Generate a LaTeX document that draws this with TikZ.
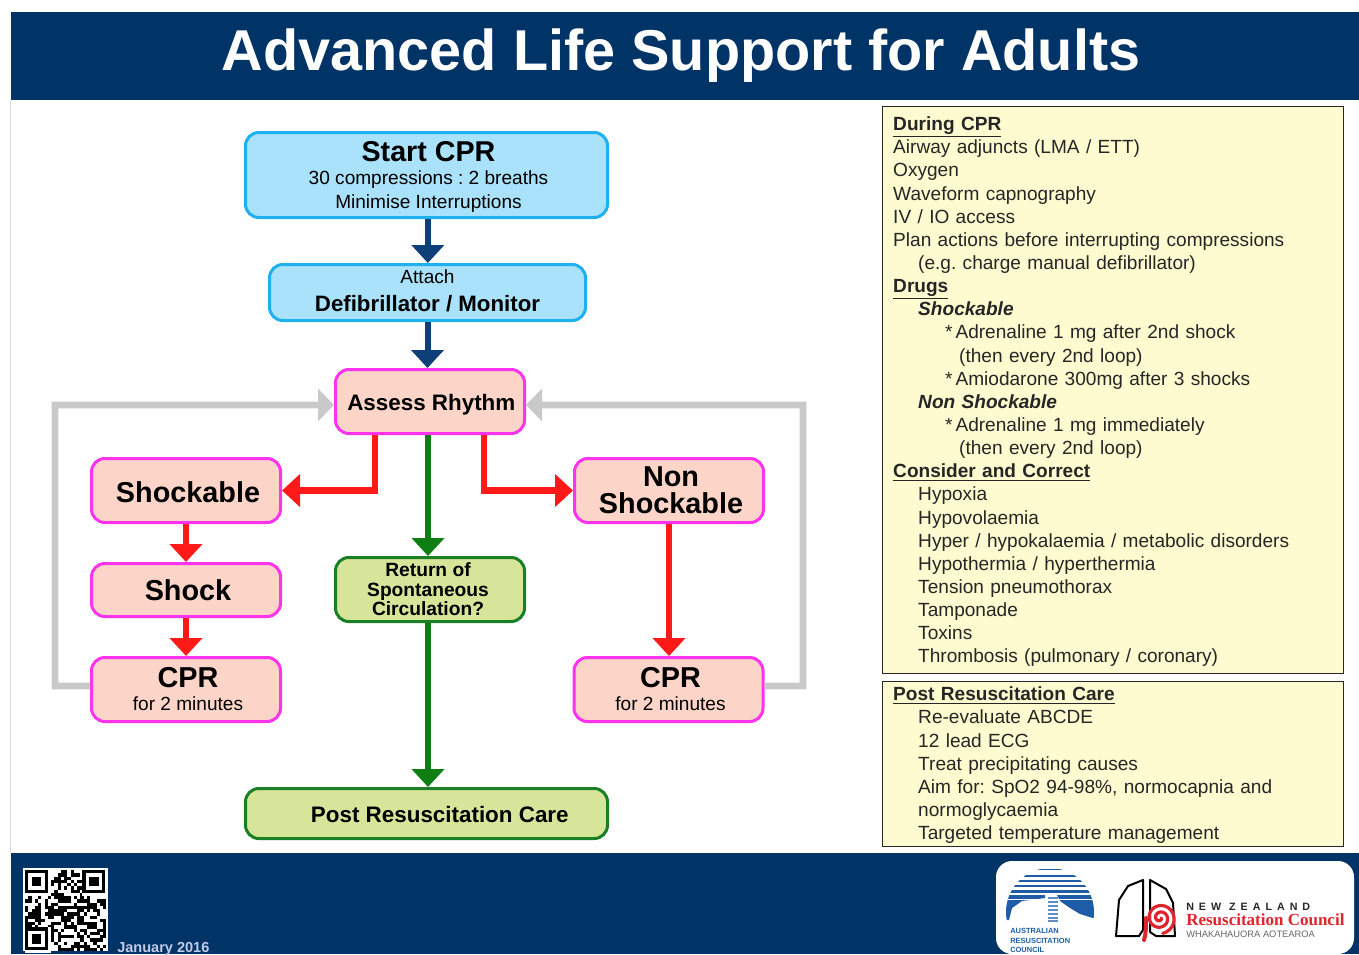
\documentclass[tikz,border=0pt]{standalone}
\usepackage{fontspec}
\setmainfont{Liberation Sans}
\newfontfamily\serifbold{Liberation Serif}
\usetikzlibrary{arrows.meta,positioning}
\definecolor{navyband}{HTML}{003366}
\definecolor{skyfill}{HTML}{A9E2FA}
\definecolor{skyline}{HTML}{1FB0EE}
\definecolor{pinkfill}{HTML}{FCD5C8}
\definecolor{pinkline}{HTML}{FF33EE}
\definecolor{leaffill}{HTML}{D7E59A}
\definecolor{leafline}{HTML}{1A7F25}
\definecolor{notefill}{HTML}{FDFBCF}
\definecolor{arrowblue}{HTML}{0F3F78}
\definecolor{arrowgreen}{HTML}{0F7F14}
\definecolor{arrowred}{HTML}{FF1A1A}
\definecolor{arrowgray}{HTML}{C9C9C9}
\definecolor{arcblue}{HTML}{1F5CA8}
\definecolor{nzred}{HTML}{E0242C}
\newcommand{\fsize}[2]{\fontsize{#1}{#2}\selectfont}
\newcommand{\indone}{\hspace*{18.75pt}}
\newcommand{\indtwo}{\hspace*{39pt}}
\newcommand{\indthree}{\hspace*{49.5pt}}
\newcommand{\notehead}[1]{\underline{\textbf{#1}}}
\newcommand{\nudge}{\hspace*{3pt}}
\newcommand{\toppad}[1]{\rule{0pt}{#1}}
\newcommand{\bulletstar}{*\hspace{2.2pt}}
\frenchspacing

\begin{document}
\begin{tikzpicture}[
    x=0.75pt, y=-0.75pt,
    flowbox/.style={rectangle, rounded corners=10pt, line width=2.25pt, align=center, inner sep=0pt, minimum width=141.75pt, minimum height=48pt},
    startbox/.style={flowbox, draw=skyline, fill=skyfill},
    rhythmbox/.style={flowbox, draw=pinkline, fill=pinkfill},
    carebox/.style={flowbox, draw=leafline, fill=leaffill},
    notebox/.style={rectangle, draw=black!85, line width=1.1pt, fill=notefill, anchor=north west, minimum width=345.75pt, text width=330pt, inner xsep=7.5pt, inner ysep=0pt, align=left, text=black!85, font=\fsize{14.3}{17.36}},
    blueflow/.style={draw=arrowblue, line width=4.5pt, -{Triangle[length=13.5pt,width=24pt,fill=arrowblue]}},
    redflow/.style={draw=arrowred, line width=4.8pt, -{Triangle[length=13.5pt,width=24pt,fill=arrowred]}},
    greenflow/.style={draw=arrowgreen, line width=4.5pt, -{Triangle[length=13.5pt,width=24pt,fill=arrowgreen]}},
    grayflow/.style={draw=arrowgray, line width=5pt, -{Triangle[length=12pt,width=24pt,fill=arrowgray]}}
]
\useasboundingbox (0,0) rectangle (1359,954);

% Header and footer bands
\fill[navyband] (11,12) rectangle (1359,100);
\fill[navyband] (11,853) rectangle (1359,954);
\draw[black!15, line width=0.75pt] (10.5,100) -- (10.5,853);
\node (title) at (681,56) [text=white, font=\fsize{43.2}{50}\bfseries] {Advanced Life Support for Adults};

% Top of the flow
\node (start) at (426.5,175) [startbox, minimum width=271.5pt, minimum height=63.75pt, font=\fsize{14.3}{18}] {\toppad{17.5pt}\nudge{\fsize{21.5}{18}\bfseries Start CPR}\\[-0.75pt]\nudge 30 compressions : 2 breaths\\\nudge Minimise Interruptions};
\node (attach) at (427.5,292.5) [startbox, minimum width=237pt, minimum height=42pt, font=\fsize{14.3}{19.5}] {Attach\\[1.5pt]{\fsize{16.7}{19.5}\bfseries Defibrillator / Monitor}\rule[-3.5pt]{0pt}{0pt}};
\node (assess) at (430,401.5) [rhythmbox, font=\fsize{16.8}{20}\bfseries] {\toppad{16.5pt}\hspace*{2pt}Assess Rhythm};

% Left branch
\node (shockable) at (186,490.5) [rhythmbox, font=\fsize{21.6}{26}\bfseries] {\toppad{17.5pt}\nudge Shockable};
\node (shock) [rhythmbox, below=28.5pt of shockable, minimum height=39.75pt, font=\fsize{21.6}{26}\bfseries] {\nudge Shock};
\node (cprleft) [rhythmbox, below=28.5pt of shock, font=\fsize{14.3}{19.5}] {\nudge{\fsize{21.6}{19.5}\bfseries CPR}\\[-2.25pt]\nudge for 2 minutes};

% Right branch
\node (nonshock) at (669,490.5) [rhythmbox, font=\fsize{21.6}{20}\bfseries] {\nudge Non\\\nudge Shockable};
\node (cprright) at (668.5,689.5) [rhythmbox, font=\fsize{14.3}{19.5}] {\nudge{\fsize{21.6}{19.5}\bfseries CPR}\\[-2.25pt]\nudge for 2 minutes};

% Middle branch
\node (rosc) at (430,589.5) [carebox, font=\fsize{14.4}{14.6}\bfseries] {\hspace*{-3pt}Return of\\\hspace*{-3pt}Spontaneous\\\hspace*{-3pt}Circulation?};
\node (post) at (426.5,813.5) [carebox, minimum width=271.5pt, minimum height=37.5pt, font=\fsize{16.8}{20}\bfseries] {\toppad{13.8pt}\hspace*{20pt}Post Resuscitation Care};

% Arrows
\draw[blueflow] (start.south) ++(1pt,0) -- ([xshift=1pt]start.south |- attach.north);
\draw[blueflow] (attach.south) -- (attach.south |- assess.north);
\draw[redflow] ([xshift=-41.25pt]assess.south) |- (shockable.east);
\draw[redflow] ([xshift=40.5pt]assess.south) |- (nonshock.west);
\draw[greenflow] ([xshift=-1.5pt]assess.south) -- ([xshift=-1.5pt]rosc.north);
\draw[greenflow] ([xshift=-1.5pt]rosc.south) -- ([xshift=-1.5pt]rosc.south |- post.north);
\draw[redflow] (shockable.south) -- (shock.north);
\draw[redflow] (shock.south) -- (cprleft.north);
\draw[redflow] (nonshock.south) -- (nonshock.south |- cprright.north);
\coordinate (leftturn) at (55,405);
\coordinate (rightturn) at (803,405);
\draw[grayflow] (cprleft.west |- 0,686) -| (leftturn) -- ([yshift=-2.6pt]assess.west);
\draw[grayflow] (cprright.east |- 0,686) -| (rightturn) -- ([yshift=-2.6pt]assess.east);

% Side notes
\node (notecpr) at (882,106) [notebox, minimum height=425pt] {\toppad{13pt}\notehead{During CPR}\\
Airway adjuncts (LMA / ETT)\\
Oxygen\\
Waveform capnography\\
IV / IO access\\
Plan actions before interrupting compressions\\
\indone (e.g. charge manual defibrillator)\\
\notehead{Drugs}\\
\indone\textbf{\textit{Shockable}}\\
\indtwo\bulletstar Adrenaline 1 mg after 2nd shock\\
\indthree (then every 2nd loop)\\
\indtwo\bulletstar Amiodarone 300mg after 3 shocks\\
\indone\textbf{\textit{Non Shockable}}\\
\indtwo\bulletstar Adrenaline 1 mg immediately\\
\indthree (then every 2nd loop)\\
\notehead{Consider and Correct}\\
\indone Hypoxia\\
\indone Hypovolaemia\\
\indone Hyper / hypokalaemia / metabolic disorders\\
\indone Hypothermia / hyperthermia\\
\indone Tension pneumothorax\\
\indone Tamponade\\
\indone Toxins\\
\indone Thrombosis (pulmonary / coronary)};
\node (notepost) at (882,681) [notebox, minimum height=123.75pt] {\toppad{12pt}\notehead{Post Resuscitation Care}\\
\indone Re-evaluate ABCDE\\
\indone 12 lead ECG\\
\indone Treat precipitating causes\\
\indone Aim for: SpO2 94-98\%, normocapnia and\\
\indone normoglycaemia\\
\indone Targeted temperature management};

% QR code
\fill[white] (23,868) rectangle (108,951);
\pgfmathsetseed{2016}
\foreach \col in {0,...,24} {
  \foreach \row in {0,...,24} {
    \pgfmathparse{rnd<0.52 ? 1 : 0}
    \ifnum\pgfmathresult=1
      \fill[black] ({25+\col*3.25},{870+\row*3.25}) rectangle ++(3.25,3.25);
    \fi
  }
}
\foreach \qx/\qy in {25/870,82.25/870,25/927.25} {
  \fill[white] (\qx,\qy) rectangle ++(26,26);
  \fill[black] (\qx,\qy) rectangle ++(22.75,22.75);
  \fill[white] ({\qx+3.25},{\qy+3.25}) rectangle ++(16.25,16.25);
  \fill[black] ({\qx+6.5},{\qy+6.5}) rectangle ++(9.75,9.75);
}
\node (issued) at (117,948.5) [anchor=west, inner sep=0pt, text=blue!10!white!85!navyband, font=\fsize{10.9}{13}\bfseries] {January 2016};

% Logos
\fill[white, rounded corners=12pt] (996,954) -- (996,861) -- (1354,861) -- (1354,954) -- cycle;
\begin{scope}
  \clip (1050,912) circle (44);
  \foreach \sy/\sh in {869/1.2,875/1.5,880/2,885/2.2,890/3} {
    \fill[arcblue] (1000,\sy) rectangle ++(100,\sh);
  }
  \fill[arcblue] (1005,920) -- (1005,895) -- (1045,895) -- (1045,898) -- (1022,901) -- (1012,908) -- (1009,920) -- cycle;
  \fill[arcblue] (1057,895) -- (1096,895) -- (1096,919) -- (1080,914) -- (1070,908) -- (1060,901) -- cycle;
  \fill[white] (1000,899) rectangle (1100,899.6);
\end{scope}
\foreach \sy in {897,901,905,909,913,917,920} {
  \fill[arcblue!70] (1048,\sy) rectangle (1058,{\sy+1.8});
}
\node (arcname) at (1010,940.5) [anchor=west, inner sep=0pt, align=left, text=arcblue, font=\fsize{5.6}{7}\bfseries] {AUSTRALIAN\\RESUSCITATION\\COUNCIL};
\draw[black, line width=1.5pt, line join=round] (1143,880) -- (1128,886) -- (1119,900) -- (1116,936) -- (1139,936) -- (1143,930) -- cycle;
\draw[black, line width=1.5pt, line join=round] (1150,880) -- (1166,889) -- (1173,903) -- (1175,936) -- (1156,936) -- (1150,932) -- cycle;
\draw[nzred, line width=2.4pt, line cap=round] plot[smooth, domain=0:800, samples=70] ({1160+(1+\x/55)*cos(\x)},{918+(1+\x/55)*sin(\x)});
\draw[nzred, line width=3pt, line cap=round] (1146,918) .. controls (1146,928) and (1146,933) .. (1144,940);
\node (nzname) at (1186,907) [anchor=west, inner sep=0pt, text=black!85, font=\fsize{8}{10}\bfseries\addfontfeatures{LetterSpace=47}] {NEW ZEALAND};
\node (nzcouncil) at (1186,920) [anchor=west, inner sep=0pt, text=nzred, font=\fsize{12.75}{15}\serifbold\bfseries] {Resuscitation Council};
\node (nzmaori) at (1186,934) [anchor=west, inner sep=0pt, text=black!60, font=\fsize{7}{9}] {WHAKAHAUORA AOTEAROA};

\end{tikzpicture}
\end{document}
